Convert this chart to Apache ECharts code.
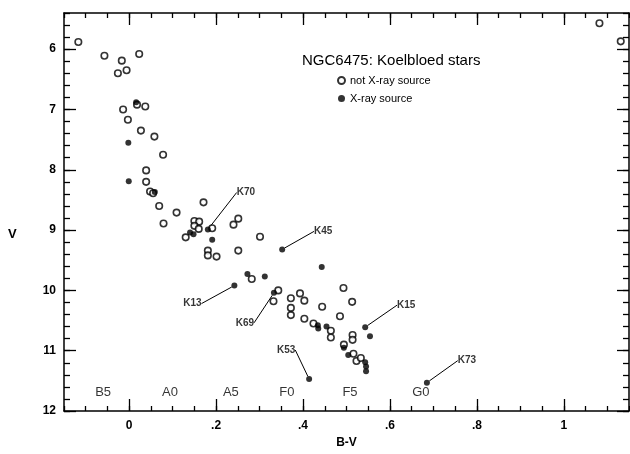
<!DOCTYPE html>
<html><head><meta charset="utf-8">
<script src="https://cdn.jsdelivr.net/npm/echarts@6/dist/echarts.min.js"></script>
<style>html,body{margin:0;padding:0;background:#fff}#c{width:630px;height:454px}</style>
</head><body><div id="c"></div>
<script>
// ---- data ----
const xMajorTicks = [0, 0.2, 0.4, 0.6, 0.8, 1.0];
const xTickLabels = ["0", ".2", ".4", ".6", ".8", "1"];
const yMajorTicks = [6, 7, 8, 9, 10, 11, 12];
const yTickLabels = ["6", "7", "8", "9", "10", "11", "12"];

// [B-V, V] not X-ray sources
const notXray = [
  [-0.117,5.88],[-0.057,6.11],[0.023,6.08],[-0.017,6.19],[-0.006,6.35],[-0.026,6.40],
  [0.018,6.92],[0.037,6.95],[-0.014,7.00],[-0.003,7.17],[0.027,7.35],[0.058,7.45],
  [0.078,7.75],[0.039,8.01],[0.039,8.20],[0.048,8.36],[0.055,8.39],[0.069,8.60],[0.109,8.71],
  [0.171,8.54],[0.079,8.89],[0.150,8.85],[0.161,8.86],[0.150,8.93],[0.160,8.98],[0.130,9.12],
  [0.191,8.97],[0.240,8.91],[0.251,8.81],[0.301,9.11],[0.181,9.34],[0.181,9.42],[0.201,9.44],
  [0.251,9.34],[0.282,9.81],[0.343,10.00],[0.332,10.18],[0.393,10.05],[0.372,10.13],[0.403,10.17],
  [0.493,9.96],[0.372,10.29],[0.372,10.41],[0.403,10.47],[0.444,10.27],[0.424,10.55],[0.464,10.67],
  [0.464,10.78],[0.485,10.43],[0.513,10.19],[0.514,10.74],[0.514,10.82],[0.494,10.90],[0.516,11.05],
  [0.523,11.17],[0.533,11.12],[1.082,5.57],[1.131,5.87]
];
// [B-V, V] X-ray sources (unlabelled)
const xray = [
  [0.016,6.88],[-0.002,7.55],[-0.001,8.19],[0.059,8.37],[0.140,9.04],[0.148,9.07],[0.191,9.16],
  [0.443,9.61],[0.272,9.73],[0.312,9.77],[0.434,10.58],[0.435,10.63],[0.454,10.60],[0.494,10.95],
  [0.504,11.07],[0.543,11.19],[0.545,11.26],[0.545,11.34],[0.554,10.76]
];
// labelled X-ray sources
const labeledNames = ["K70", "K45", "K13", "K69", "K53", "K15", "K73"];
const labeledBV    = [0.181, 0.352, 0.242, 0.333, 0.414, 0.543, 0.685];
const labeledV     = [8.99, 9.32, 9.92, 10.04, 11.47, 10.61, 11.53];

// spectral type markers along the bottom
const spectralTypes = ["B5", "A0", "A5", "F0", "F5", "G0"];
const spectralBV    = [-0.06, 0.094, 0.234, 0.363, 0.508, 0.671];
const spectralRowV  = 11.69;

// ---- layout (label offsets in px) ----
const labelOffsets = {
  K70: [38, -37], K45: [41, -18], K13: [-42, 18], K69: [-29, 30],
  K53: [-23, -29], K15: [41, -22], K73: [40, -22]
};

const FONT = "'Liberation Sans', Arial, Helvetica, sans-serif";
const chart = echarts.init(document.getElementById('c'), null, {renderer: 'canvas'});

const lineStyle = {color: '#000', width: 1.5};
const tickStyle = {color: '#000', width: 1.3};
const X0 = -0.15, X1 = 1.15, Y0 = 5.4, Y1 = 12;

function xAx(pos, major, withLabels) {
  const a = {
    type: 'value', position: pos, min: X0, max: X1, gridIndex: 0,
    axisLine: {show: major, onZero: false, lineStyle: lineStyle},
    splitLine: {show: false},
    axisTick: {show: true, inside: true, length: major ? 12 : 5, lineStyle: tickStyle},
    axisLabel: {show: false}
  };
  if (major) {
    a.axisTick.customValues = xMajorTicks;
    a.axisLabel = withLabels ? {
      show: true, customValues: xMajorTicks, margin: 9,
      fontFamily: FONT, fontSize: 12, fontWeight: 'bold', color: '#000',
      formatter: v => { const i = xMajorTicks.findIndex(t => Math.abs(t - v) < 1e-6); return i >= 0 ? xTickLabels[i] : ''; }
    } : {show: false};
  } else {
    a.interval = 0.05;
  }
  if (withLabels) {
    a.name = 'B-V'; a.nameLocation = 'middle'; a.nameGap = 26;
    a.nameTextStyle = {fontFamily: FONT, fontSize: 12, fontWeight: 'bold', color: '#000'};
  }
  return a;
}
function yAx(pos, major, withLabels) {
  const a = {
    type: 'value', position: pos, min: Y0, max: Y1, inverse: true, gridIndex: 0,
    axisLine: {show: major, onZero: false, lineStyle: lineStyle},
    splitLine: {show: false},
    axisTick: {show: true, inside: true, length: major ? 12 : 6, lineStyle: tickStyle},
    axisLabel: {show: false}
  };
  if (major) {
    a.axisTick.customValues = yMajorTicks;
    a.axisLabel = withLabels ? {
      show: true, customValues: yMajorTicks, margin: 8,
      fontFamily: FONT, fontSize: 12, fontWeight: 'bold', color: '#000',
      formatter: v => { const i = yMajorTicks.findIndex(t => Math.abs(t - v) < 1e-6); return i >= 0 ? yTickLabels[i] : ''; }
    } : {show: false};
  } else {
    a.interval = 0.2;
  }
  return a;
}

const option = {
  animation: false,
  backgroundColor: '#fff',
  grid: {left: 64, right: 1, top: 13, bottom: 40, containLabel: false},
  title: {
    text: 'NGC6475: Koelbloed stars', left: 302, top: 53, padding: 0,
    textStyle: {fontFamily: FONT, fontSize: 15, fontWeight: 'normal', color: '#000'}
  },
  legend: {
    data: ['not X-ray source', 'X-ray source'],
    orient: 'vertical', left: 337, top: 75, padding: 0, itemGap: 7,
    itemWidth: 7, itemHeight: 7, icon: 'circle', selectedMode: false,
    textStyle: {fontFamily: FONT, fontSize: 11, color: '#000'}
  },
  graphic: [{
    type: 'text', left: 8, top: 228,
    style: {text: 'V', font: 'bold 13px ' + FONT, fill: '#000'}
  }],
  xAxis: [xAx('bottom', true, true), xAx('bottom', false, false), xAx('top', true, false), xAx('top', false, false)],
  yAxis: [yAx('left', true, true), yAx('left', false, false), yAx('right', true, false), yAx('right', false, false)],
  series: [
    {
      name: 'not X-ray source', type: 'scatter', symbol: 'circle', symbolSize: 6.5,
      xAxisIndex: 0, yAxisIndex: 0, data: notXray,
      itemStyle: {color: '#fff', borderColor: '#000', borderWidth: 1.6}
    },
    {
      name: 'X-ray source', type: 'scatter', symbol: 'circle', symbolSize: 6,
      xAxisIndex: 0, yAxisIndex: 0, data: xray,
      itemStyle: {color: '#000'}
    },
    {
      name: 'labelled', type: 'scatter', symbol: 'circle', symbolSize: 6,
      xAxisIndex: 0, yAxisIndex: 0,
      data: labeledNames.map((n, i) => ({name: n, value: [labeledBV[i], labeledV[i]]})),
      itemStyle: {color: '#000'},
      label: {
        show: true, formatter: '{b}', position: 'inside', color: '#000',
        fontFamily: FONT, fontSize: 10, fontWeight: 'bold'
      },
      labelLayout: p => {
        const o = labelOffsets[labeledNames[p.dataIndex]];
        return {dx: o[0], dy: o[1]};
      },
      labelLine: {show: true, lineStyle: {color: '#000', width: 1}}
    },
    {
      name: 'spectral', type: 'scatter', symbolSize: 0, silent: true,
      xAxisIndex: 0, yAxisIndex: 0,
      data: spectralTypes.map((n, i) => ({name: n, value: [spectralBV[i], spectralRowV]})),
      label: {
        show: true, formatter: '{b}', position: 'inside', color: '#000',
        fontFamily: FONT, fontSize: 13
      }
    }
  ]
};
chart.setOption(option);
</script>
</body></html>
